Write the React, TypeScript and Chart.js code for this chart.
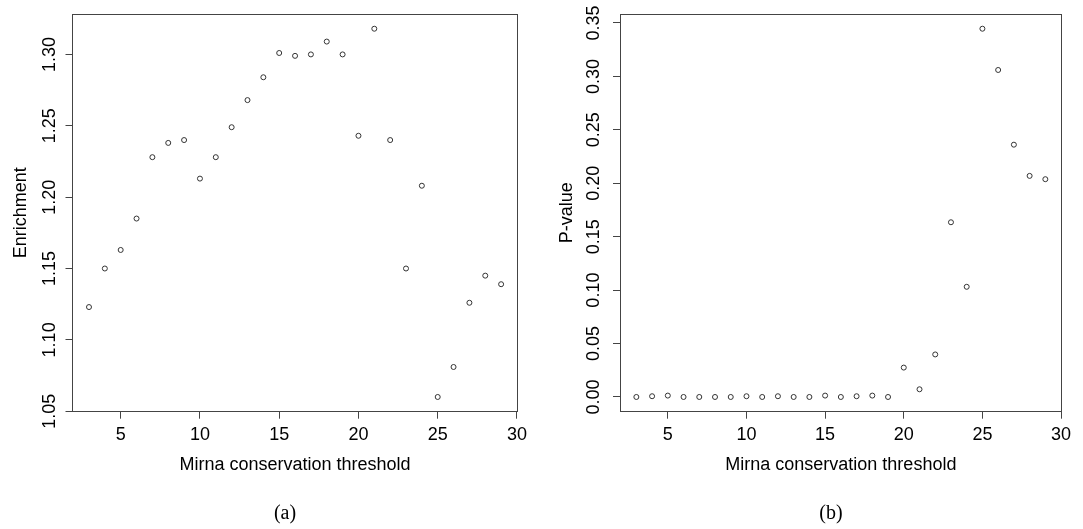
import React, { useEffect, useRef } from "react";
import { Chart, registerables } from "chart.js";

Chart.register(...registerables);

// ---- data ----
const thresholds = [3, 4, 5, 6, 7, 8, 9, 10, 11, 12, 13, 14, 15, 16, 17, 18, 19, 20, 21, 22, 23, 24, 25, 26, 27, 28, 29];
const enrichment = [
  1.123, 1.150, 1.163, 1.185, 1.228, 1.238, 1.240, 1.213, 1.228, 1.249, 1.268, 1.284, 1.301, 1.299,
  1.300, 1.309, 1.300, 1.243, 1.318, 1.240, 1.150, 1.208, 1.060, 1.081, 1.126, 1.145, 1.139,
];
const pValues = [
  0.0, 0.0007, 0.0013, 0.0, 0.0, 0.0, 0.0, 0.0007, 0.0, 0.0007, 0.0, 0.0, 0.0013, 0.0,
  0.0007, 0.0013, 0.0, 0.0275, 0.0072, 0.0398, 0.1635, 0.1031, 0.3446, 0.306, 0.2361, 0.2069, 0.2038,
];
const xTickValues = [5, 10, 15, 20, 25, 30];
const enrichmentTicks = [1.05, 1.1, 1.15, 1.2, 1.25, 1.3];
const pValueTicks = [0, 0.05, 0.1, 0.15, 0.2, 0.25, 0.3, 0.35];
const xAxisTitle = "Mirna conservation threshold";
const leftYTitle = "Enrichment";
const rightYTitle = "P-value";
const leftCaption = "(a)";
const rightCaption = "(b)";

const FONT = "'Liberation Sans', Arial, Helvetica, sans-serif";
const SERIF = "'Liberation Serif', 'DejaVu Serif', serif";
const INK = "#000";
const LINE = "#444";
const POINT = "#333";
const H = 529;

function rRange(values: number[]): [number, number] {
  const mn = Math.min(...values);
  const mx = Math.max(...values);
  const d = (mx - mn) * 0.04;
  return [mn - d, mx + d];
}

type Panel = {
  values: number[];
  yTicks: number[];
  yTitle: string;
  width: number;
  areaLeft: number;
  areaRight: number;
  yTitlePad: number;
  yTickPad: number;
};

function buildConfig(p: Panel): any {
  const [xMin, xMax] = rRange(thresholds);
  const [yMin, yMax] = rRange(p.values);
  const tickFont = { family: FONT, size: 18 };
  return {
    type: "scatter",
    data: {
      datasets: [
        {
          data: thresholds.map((x, i) => ({ x, y: p.values[i] })),
          pointStyle: "circle",
          pointRadius: 2.5,
          pointHoverRadius: 2.5,
          pointBorderWidth: 1,
          borderColor: POINT,
          backgroundColor: "rgba(0,0,0,0)",
          pointBackgroundColor: "rgba(0,0,0,0)",
          pointBorderColor: POINT,
          showLine: false,
        },
      ],
    },
    options: {
      responsive: false,
      animation: false,
      devicePixelRatio: 1,
      events: [],
      layout: { padding: { top: 14, right: p.width - p.areaRight, left: 0, bottom: 29.3 } },
      plugins: {
        legend: { display: false },
        tooltip: { enabled: false },
        title: { display: false },
      },
      scales: {
        x: {
          type: "linear",
          position: "bottom",
          min: xMin,
          max: xMax,
          afterBuildTicks: (s: any) => {
            s.ticks = xTickValues.map((v) => ({ value: v }));
          },
          afterFit: (s: any) => {
            s.height = 88;
          },
          ticks: {
            autoSkip: false,
            maxRotation: 0,
            minRotation: 0,
            padding: 5.5,
            color: INK,
            font: tickFont,
            callback: (v: any) => String(v),
          },
          grid: {
            display: true,
            drawOnChartArea: false,
            drawTicks: true,
            tickLength: 7,
            tickColor: LINE,
            tickWidth: 1,
          },
          border: { display: true, color: LINE, width: 1 },
          title: {
            display: true,
            text: xAxisTitle,
            color: INK,
            font: tickFont,
            padding: { top: 0, bottom: 24 },
          },
        },
        x2: {
          type: "linear",
          position: "top",
          min: xMin,
          max: xMax,
          afterFit: (s: any) => {
            s.height = 0;
          },
          ticks: { display: false },
          grid: { display: false, drawTicks: false },
          border: { display: true, color: LINE, width: 1 },
        },
        y: {
          type: "linear",
          position: "left",
          min: yMin,
          max: yMax,
          afterBuildTicks: (s: any) => {
            s.ticks = p.yTicks.map((v) => ({ value: v }));
          },
          afterFit: (s: any) => {
            s.width = p.areaLeft;
          },
          ticks: {
            autoSkip: false,
            minRotation: 90,
            maxRotation: 90,
            crossAlign: "center",
            padding: p.yTickPad,
            color: INK,
            font: tickFont,
            callback: (v: any) => Number(v).toFixed(2),
          },
          grid: {
            display: true,
            drawOnChartArea: false,
            drawTicks: true,
            tickLength: 7,
            tickColor: LINE,
            tickWidth: 1,
          },
          border: { display: true, color: LINE, width: 1 },
          title: {
            display: true,
            text: p.yTitle,
            color: INK,
            font: tickFont,
            padding: { top: p.yTitlePad, bottom: 0 },
          },
        },
        y2: {
          type: "linear",
          position: "right",
          min: yMin,
          max: yMax,
          afterFit: (s: any) => {
            s.width = 0;
          },
          ticks: { display: false },
          grid: { display: false, drawTicks: false },
          border: { display: true, color: LINE, width: 1 },
        },
      },
    },
  };
}

function ScatterPanel({ panel, left }: { panel: Panel; left: number }) {
  const ref = useRef<HTMLCanvasElement | null>(null);
  useEffect(() => {
    if (!ref.current) return;
    const chart = new Chart(ref.current, buildConfig(panel));
    return () => chart.destroy();
  }, [panel]);
  return (
    <canvas
      ref={ref}
      width={panel.width}
      height={H}
      style={{ position: "absolute", left, top: 0, width: panel.width, height: H, display: "block" }}
    />
  );
}

function Caption({ text, center }: { text: string; center: number }) {
  return (
    <div
      style={{
        position: "absolute",
        left: center - 50,
        width: 100,
        top: 499.7,
        height: 24,
        lineHeight: "24px",
        textAlign: "center",
        fontFamily: SERIF,
        fontSize: 20,
        color: INK,
      }}
    >
      {text}
    </div>
  );
}

const leftPanel: Panel = {
  values: enrichment,
  yTicks: enrichmentTicks,
  yTitle: leftYTitle,
  width: 540,
  areaLeft: 72.5,
  areaRight: 517.6,
  yTitlePad: 9.8,
  yTickPad: -2,
};

const rightPanel: Panel = {
  values: pValues,
  yTicks: pValueTicks,
  yTitle: rightYTitle,
  width: 543,
  areaLeft: 80,
  areaRight: 521.7,
  yTitlePad: 16.7,
  yTickPad: 1,
};

export default function App() {
  return (
    <div style={{ position: "fixed", left: 0, top: 0, width: 1083, height: H, background: "#fff", overflow: "hidden" }}>
      <ScatterPanel panel={leftPanel} left={0} />
      <ScatterPanel panel={rightPanel} left={540} />
      <Caption text={leftCaption} center={285} />
      <Caption text={rightCaption} center={831} />
    </div>
  );
}
